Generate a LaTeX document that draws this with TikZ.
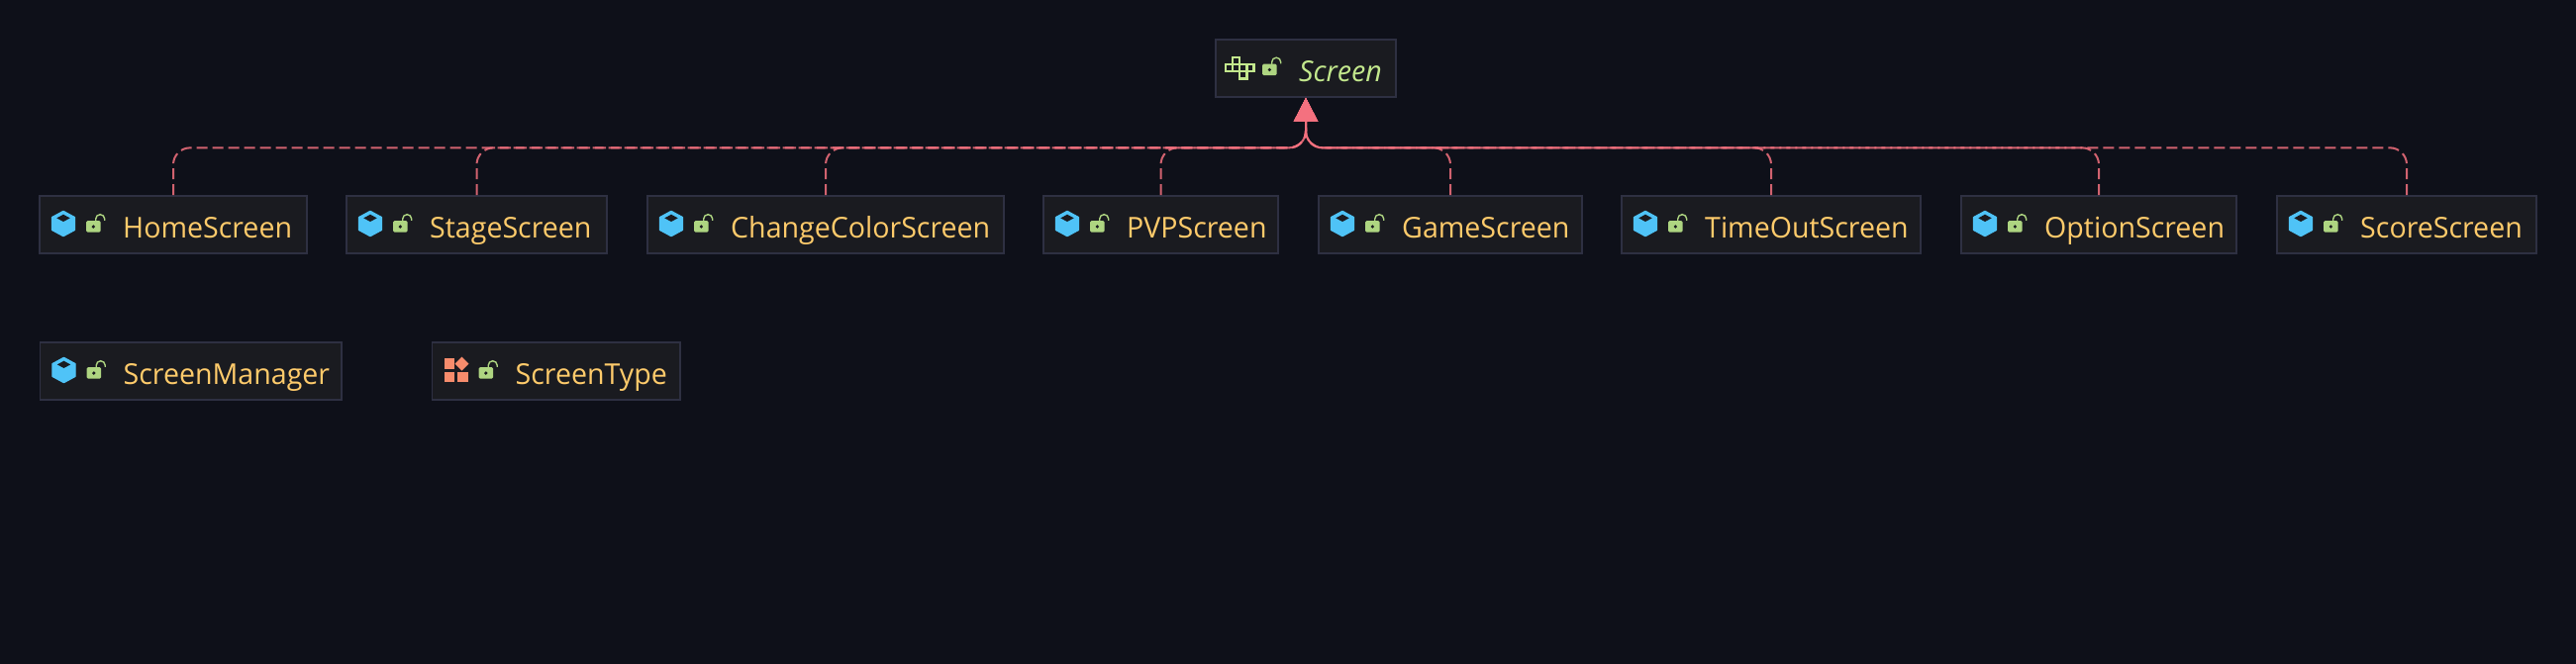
\documentclass[tikz,border=0pt]{standalone}
\usepackage{fontspec}
\setmainfont[FakeStretch=0.985]{Open Sans}
\usetikzlibrary{arrows.meta,calc}
\definecolor{bgcol}{HTML}{0E1019}
\definecolor{boxfill}{HTML}{1A1B20}
\definecolor{boxline}{HTML}{2E3042}
\definecolor{textcol}{HTML}{FFCB6B}
\definecolor{ifacecol}{HTML}{C3E88D}
\definecolor{cubecol}{HTML}{4FC3F7}
\definecolor{lockcol}{HTML}{AED581}
\definecolor{enumcol}{HTML}{F78C6C}
\definecolor{edgecol}{HTML}{F4717F}
\tikzset{
  x=1pt,y=-1pt,
  umlbox/.style={draw=boxline,fill=boxfill,line width=1.7pt,inner sep=0pt,minimum height=58pt},
  umltext/.style={anchor=base west,inner sep=0pt,text=textcol,font=\fontsize{29}{34}\selectfont},
  ifacetext/.style={umltext,text=ifacecol,font=\fontsize{29}{34}\selectfont\itshape},
  edge/.style={draw=edgecol,draw opacity=0.85,line width=2pt,rounded corners=17pt,
    dash pattern=on 11pt off 5pt,-{Triangle[length=24pt,width=24pt]}},
}
% lock icon at box origin
\newcommand{\lockicon}[2]{%
  \begin{scope}[shift={(#1,#2)}]
    \fill[lockcol,rounded corners=1.5pt] (47,25) rectangle (61.7,36.7);
    \fill[boxfill] (54.3,31) circle (1.8);
    \draw[lockcol,line width=1.4pt] (56.7,25.5) -- (56.7,23.2) arc[start angle=180,end angle=360,x radius=4.5pt,y radius=-4.5pt] -- (65.7,24.9);
  \end{scope}}
\newcommand{\cubeicon}[2]{%
  \begin{scope}[shift={(#1,#2)}]
    \fill[cubecol,line join=round,draw=cubecol,line width=1pt] (24,15.2) -- (35.6,21.5) -- (35.6,34.5) -- (24,40.8) -- (12.4,34.5) -- (12.4,21.5) -- cycle;
    \fill[boxfill] (17.3,22.4) -- (24,18.7) -- (30.7,22.4) -- (24,26) -- cycle;
  \end{scope}}
\newcommand{\enumicon}[2]{%
  \begin{scope}[shift={(#1,#2)}]
    \fill[enumcol] (12,16.3) rectangle (22.5,27);
    \fill[enumcol] (12,29.6) rectangle (22.5,39.7);
    \fill[enumcol] (25.2,29.6) rectangle (36,39.7);
    \fill[enumcol] (30,14.7) -- (37,21.7) -- (30,28.7) -- (23,21.7) -- cycle;
  \end{scope}}
\newcommand{\ifaceicon}[2]{%
  \begin{scope}[shift={(#1,#2)},ifacecol,line width=2.4pt]
    \draw (16.9,17.7) rectangle (24.1,24.9);
    \draw (9.7,24.9) rectangle (16.9,32.1);
    \draw (16.9,24.9) rectangle (24.1,32.1);
    \draw (24.1,24.9) rectangle (31.3,32.1);
    \draw (31.3,24.9) rectangle (38.5,32.1);
    \draw (24.1,32.1) rectangle (31.3,39.3);
  \end{scope}}
% name, x0, x1, y0, text style, text
\newcommand{\umlnode}[6]{%
  \node[umlbox,minimum width={#3-#2}] (#1) at ({(#2+#3)/2},{#4+29}) {};
  \node[#5] (#1-label) at ({#2+84},{#4+42}) {#6};}
\newcommand{\realize}[1]{%
  \draw[edge] (#1.north) -- (#1.north |- bus) -- (bus) -- (screen.south);}
\begin{document}
\begin{tikzpicture}
\useasboundingbox (0,0) rectangle (2602,670);
\fill[bgcol] (-3,-3) rectangle (2605,673);
\umlnode{screen}{1228}{1410}{40}{ifacetext}{Screen}
\umlnode{home}{40}{310}{198}{umltext}{HomeScreen}
\umlnode{stage}{350}{613}{198}{umltext}{StageScreen}
\umlnode{change}{654}{1014}{198}{umltext}{ChangeColorScreen}
\umlnode{pvp}{1054}{1291}{198}{umltext}{PVPScreen}
\umlnode{game}{1332}{1598}{198}{umltext}{GameScreen}
\umlnode{timeout}{1638}{1940}{198}{umltext}{TimeOutScreen}
\umlnode{option}{1981}{2259}{198}{umltext}{OptionScreen}
\umlnode{score}{2300}{2562}{198}{umltext}{ScoreScreen}
\umlnode{manager}{40.5}{345}{346}{umltext}{ScreenManager}
\umlnode{stype}{436.5}{687}{346}{umltext}{ScreenType}
\ifaceicon{1228}{40}\lockicon{1228}{39.5}
\foreach \x in {40,350,654,1054,1332,1638,1981,2300}{\cubeicon{\x}{198}\lockicon{\x}{198}}
\cubeicon{40.5}{346}\lockicon{40.5}{346}
\enumicon{436.5}{346}\lockicon{436.5}{346}
\coordinate (bus) at ($(screen.south)+(0,50.5)$);
\realize{home}\realize{stage}\realize{change}\realize{pvp}
\realize{game}\realize{timeout}\realize{option}\realize{score}
\end{tikzpicture}
\end{document}
